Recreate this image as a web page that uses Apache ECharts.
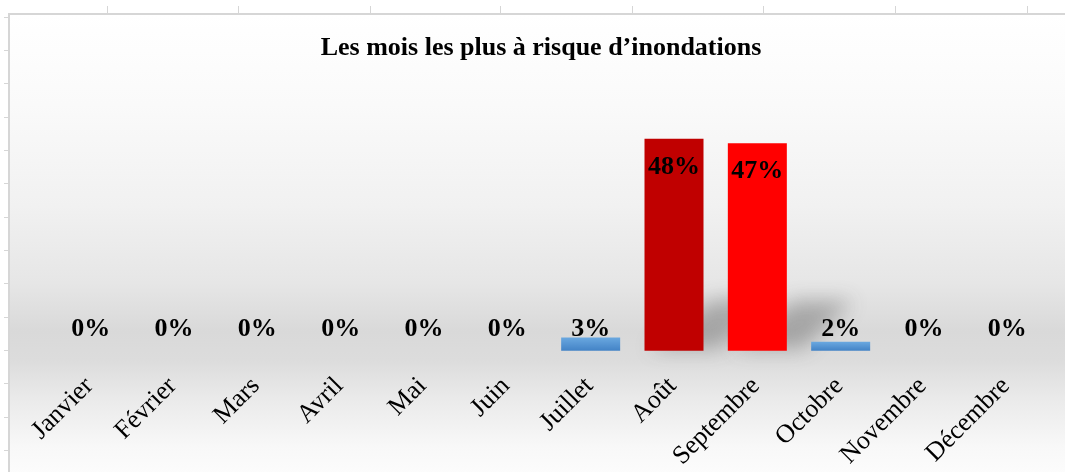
<!DOCTYPE html>
<html>
<head>
<meta charset="utf-8">
<script src="https://cdn.jsdelivr.net/npm/echarts@6/dist/echarts.min.js"></script>
<style>
  html, body { margin: 0; padding: 0; background: #fff; }
  #chart { width: 1065px; height: 472px; }
</style>
</head>
<body>
<div id="chart"></div>
<script>
const mois = ['Janvier', 'Février', 'Mars', 'Avril', 'Mai', 'Juin', 'Juillet', 'Août', 'Septembre', 'Octobre', 'Novembre', 'Décembre']
const risque = [0, 0, 0, 0, 0, 0, 3, 48, 47, 2, 0, 0]

const serif = 'Liberation Serif, Times New Roman, serif'
const grille = '#d6d6d6'
// colonnes mises en avant
const rouges = { 'Août': '#c00000', 'Septembre': '#ff0000' }
const bleu = {
  type: 'linear', x: 0, y: 0, x2: 0, y2: 1,
  colorStops: [
    { offset: 0, color: '#6aa8e0' },
    { offset: 1, color: '#4383c6' },
  ],
}

// petits traits de la feuille de calcul autour du graphique
const traits = []
;[107, 238, 370, 500, 632, 763, 895, 1027].forEach((x) => {
  traits.push({ type: 'line', shape: { x1: x + 0.5, y1: 6, x2: x + 0.5, y2: 13 }, style: { stroke: grille, lineWidth: 1 } })
})
;[17, 50, 83, 117, 150, 183, 217, 250, 283, 317, 350, 383, 417, 450].forEach((y) => {
  traits.push({ type: 'line', shape: { x1: 4, y1: y + 0.5, x2: 8, y2: y + 0.5 }, style: { stroke: grille, lineWidth: 1 } })
})

const chart = echarts.init(document.getElementById('chart'))

const decal = 3000 // la forme est dessinée hors champ, seule son ombre floue reste visible

chart.setOption({
  animation: false,
  backgroundColor: '#fff',
  graphic: [
    {
      type: 'rect',
      z: -10,
      shape: { x: 9, y: 14, width: 1100, height: 480 },
      style: {
        fill: {
          type: 'linear', x: 0, y: 0, x2: 0, y2: 1, global: false,
          colorStops: [
            { offset: 0, color: '#ffffff' },
            { offset: 0.19, color: '#fafafa' },
            { offset: 0.4, color: '#f1f1f1' },
            { offset: 0.56, color: '#e6e6e6' },
            { offset: 0.66, color: '#d9d9d9' },
            { offset: 0.72, color: '#dcdcdc' },
            { offset: 0.8, color: '#eaeaea' },
            { offset: 0.9, color: '#f8f8f8' },
            { offset: 1, color: '#ffffff' },
          ],
        },
        stroke: grille,
        lineWidth: 2,
      },
    },
    ...traits,
  ],
  title: {
    text: 'Les mois les plus à risque d’inondations',
    left: 536,
    top: 30,
    textAlign: 'center',
    textStyle: { fontFamily: serif, fontWeight: 'bold', fontSize: 26, color: '#000' },
  },
  grid: { left: 49, right: 16, top: 130, bottom: 120 },
  xAxis: {
    type: 'category',
    data: mois,
    axisLine: { show: false },
    axisTick: { show: false },
    axisLabel: {
      interval: 0,
      rotate: 45,
      margin: 30,
      padding: [0, 2, 0, 0],
      fontFamily: serif,
      fontSize: 26,
      color: '#000',
    },
  },
  yAxis: {
    type: 'value',
    min: 0,
    max: 50,
    show: false,
    splitLine: { show: false },
  },
  series: [
    {
      // ombre portée en perspective derrière les colonnes
      type: 'custom',
      z: 1,
      silent: true,
      data: risque,
      renderItem: (params, api) => {
        const bas = api.coord([api.value(0), 0])
        const haut = api.coord([api.value(0), api.value(1)])
        const h = bas[1] - haut[1]
        if (h < 20) return null
        const w = 59
        const hs = h * 0.24
        const dx = h * 0.32
        return {
          type: 'polygon',
          shape: {
            points: [
              [bas[0] - w / 2 + 4 - decal, bas[1] - 2],
              [bas[0] + w / 2 + 16 - decal, bas[1] - 2],
              [bas[0] + w / 2 + dx - decal, bas[1] - hs],
              [bas[0] - w / 2 + dx - decal, bas[1] - hs],
            ],
          },
          style: {
            fill: '#000',
            shadowBlur: 20,
            shadowOffsetX: decal,
            shadowColor: 'rgba(70,70,70,0.36)',
          },
        }
      },
      encode: { x: 0, y: 1 },
    },
    {
      type: 'bar',
      z: 2,
      barWidth: 59,
      data: risque.map((v, i) => ({
        value: v,
        itemStyle: { color: rouges[mois[i]] || bleu },
        label: v > 10
          ? { position: 'insideTop', distance: 15 }
          : { position: 'insideBottom', distance: 8 },
      })),
      label: {
        show: true,
        formatter: '{c}%',
        fontFamily: serif,
        fontWeight: 'bold',
        fontSize: 26,
        color: '#000',
      },
    },
  ],
})
</script>
</body>
</html>
